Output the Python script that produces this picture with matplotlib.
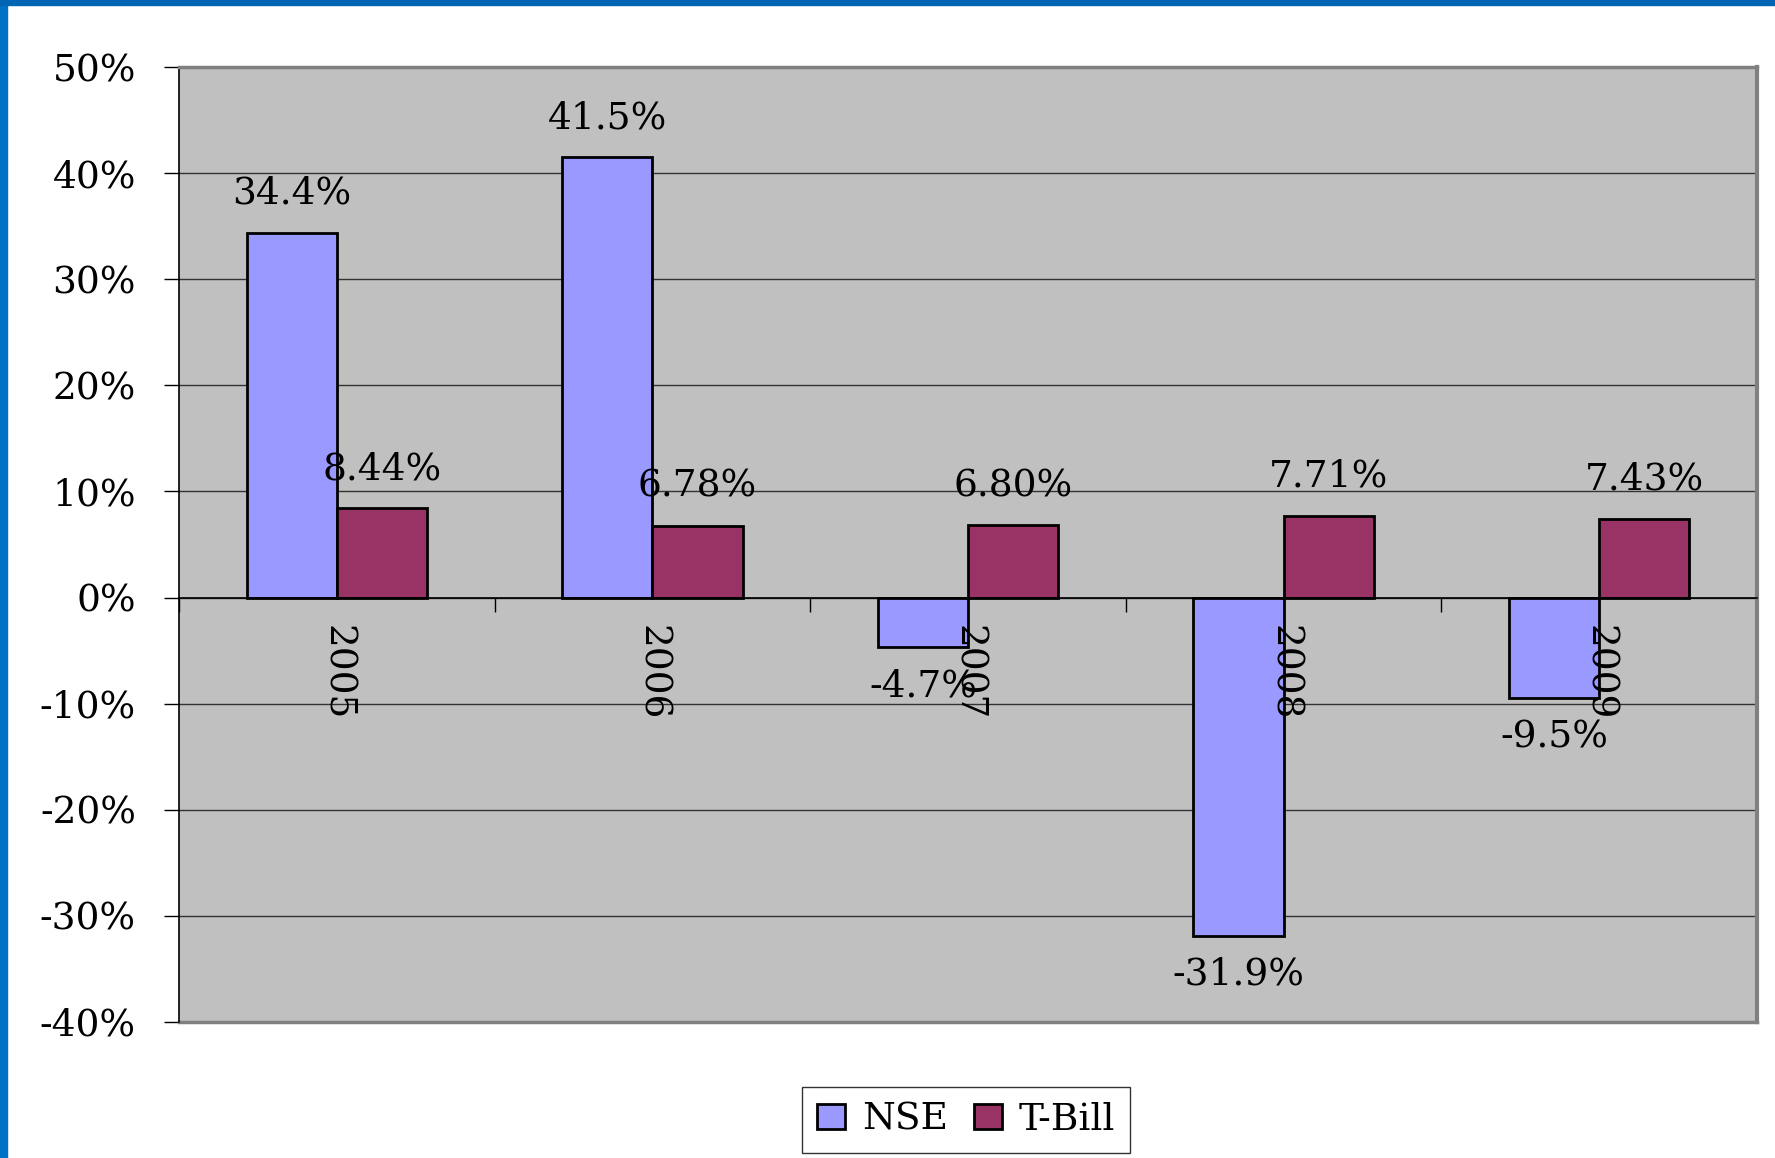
import matplotlib
matplotlib.use("Agg")
import matplotlib.pyplot as plt
from matplotlib.patches import Rectangle, Patch
import numpy as np

plt.rcParams['font.family'] = ['DejaVu Serif']

years = ["2005", "2006", "2007", "2008", "2009"]
nse = [34.4, 41.5, -4.7, -31.9, -9.5]
tbill = [8.44, 6.78, 6.80, 7.71, 7.43]
nse_labels = ["34.4%", "41.5%", "-4.7%", "-31.9%", "-9.5%"]
tbill_labels = ["8.44%", "6.78%", "6.80%", "7.71%", "7.43%"]
yticks = [50, 40, 30, 20, 10, 0, -10, -20, -30, -40]
ytick_labels = ["50%", "40%", "30%", "20%", "10%", "0%", "-10%", "-20%", "-30%", "-40%"]

NSE_COLOR = "#9999FF"
TB_COLOR = "#993366"
FS = 27

fig = plt.figure(figsize=(17.75, 11.58), dpi=100)
fig.patch.set_facecolor("white")
# blue slide frame
fig.patches.append(Rectangle((0, 0), 7 / 1775, 1, transform=fig.transFigure, color="#0072C6", zorder=0))
fig.patches.append(Rectangle((0, 1 - 5 / 1158), 1, 5 / 1158, transform=fig.transFigure, color="#0066B3", zorder=0))

ax = fig.add_axes([179 / 1775, 136 / 1158, (1757 - 179) / 1775, (1091 - 136) / 1158])
ax.set_facecolor("#C0C0C0")

x = np.arange(len(years))
w = 1 / 3.5
b1 = ax.bar(x - w / 2, nse, w, color=NSE_COLOR, edgecolor="black", linewidth=2, zorder=3)
b2 = ax.bar(x + w / 2, tbill, w, color=TB_COLOR, edgecolor="black", linewidth=2, zorder=3)

ax.set_xlim(-0.5, len(years) - 0.5)
ax.set_ylim(-40, 50)
ax.set_yticks(yticks)
ax.set_yticklabels(ytick_labels, fontsize=FS)
ax.yaxis.grid(True, color="#333333", linewidth=1, zorder=1)
ax.set_axisbelow(True)
ax.tick_params(axis="y", length=11, width=1, pad=20, direction="out")

# category axis sits on the zero line
ax.spines["bottom"].set_position(("data", 0))
ax.spines["bottom"].set_linewidth(1.2)
ax.spines["bottom"].set_zorder(4)
ax.set_xticks(np.arange(len(years) + 1) - 0.5)
ax.set_xticklabels([])
ax.tick_params(axis="x", length=10, width=1, direction="out")
ax.spines["left"].set_linewidth(1.2)
ax.spines["top"].set_color("#808080")
ax.spines["top"].set_linewidth(2.5)
ax.spines["right"].set_color("#808080")
ax.spines["right"].set_linewidth(3)
ax.axhline(-40, color="#808080", linewidth=2.5, clip_on=False, zorder=2)

for i, yr in enumerate(years):
    ax.annotate(yr, (x[i], 0), xytext=(0, -20), textcoords="offset points",
                ha="center", va="top", rotation=-90, fontsize=FS, zorder=5)

for bars, labels in ((b1, nse_labels), (b2, tbill_labels)):
    for bar, lab in zip(bars, labels):
        h = bar.get_height()
        xc = bar.get_x() + bar.get_width() / 2
        off = 28 if h >= 0 else -28
        ax.annotate(lab, (xc, h), xytext=(0, off), textcoords="offset points",
                    ha="center", va="center", fontsize=FS, zorder=6)

handles = [Patch(facecolor=NSE_COLOR, edgecolor="black", linewidth=2),
           Patch(facecolor=TB_COLOR, edgecolor="black", linewidth=2)]
leg = fig.legend(handles, ["NSE", "T-Bill"], loc="center", bbox_to_anchor=(966 / 1775, 1 - 1120 / 1158),
                 ncol=2, fontsize=FS, frameon=True, fancybox=False, edgecolor="black",
                 handlelength=0.75, handleheight=0.65, handletextpad=0.45, columnspacing=0.7,
                 borderpad=0.4, borderaxespad=0.3)
leg.get_frame().set_linewidth(1)

fig.savefig("out.png", dpi=100)
